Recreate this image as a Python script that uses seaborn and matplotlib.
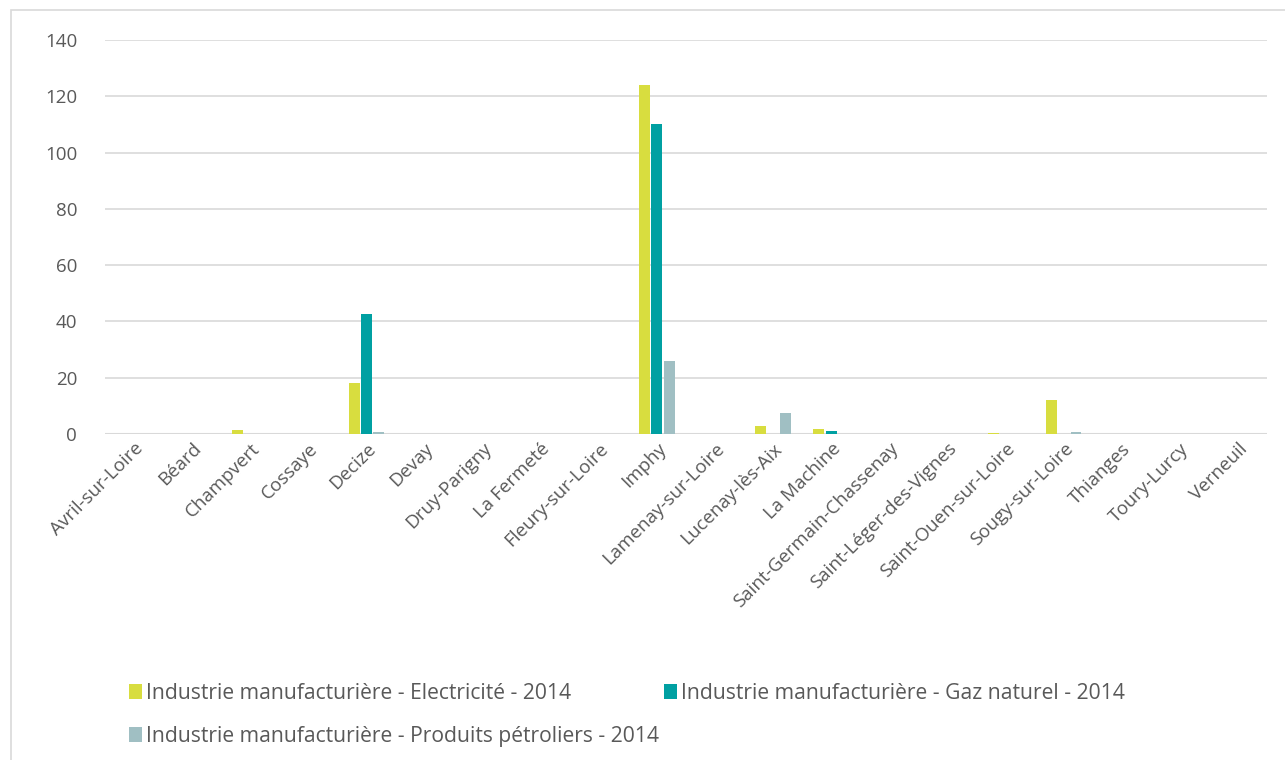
import matplotlib
matplotlib.use("Agg")
import matplotlib.pyplot as plt
from matplotlib.patches import Rectangle, Patch
import seaborn as sns
import pandas as pd

communes = [
    "Avril-sur-Loire", "Béard", "Champvert", "Cossaye", "Decize", "Devay",
    "Druy-Parigny", "La Fermeté", "Fleury-sur-Loire", "Imphy",
    "Lamenay-sur-Loire", "Lucenay-lès-Aix", "La Machine",
    "Saint-Germain-Chassenay", "Saint-Léger-des-Vignes",
    "Saint-Ouen-sur-Loire", "Sougy-sur-Loire", "Thianges", "Toury-Lurcy",
    "Verneuil",
]
electricite = [0, 0, 1.5, 0, 18.0, 0, 0, 0, 0, 124.0, 0, 2.8, 1.8, 0, 0, 0.3, 12.2, 0, 0, 0]
gaz_naturel = [0, 0, 0, 0, 42.5, 0, 0, 0, 0, 110.0, 0, 0, 0.9, 0, 0, 0, 0, 0, 0, 0]
produits_petroliers = [0, 0, 0, 0, 0.8, 0, 0, 0, 0, 26.0, 0, 7.3, 0, 0, 0, 0, 0.6, 0, 0, 0]

series_names = [
    "Industrie manufacturière - Electricité - 2014",
    "Industrie manufacturière - Gaz naturel - 2014",
    "Industrie manufacturière - Produits pétroliers - 2014",
]
colors = ["#D8DD3F", "#00A0A2", "#A0BFC3"]
yticks = [0, 20, 40, 60, 80, 100, 120, 140]

df = pd.DataFrame({
    "commune": communes * 3,
    "serie": [series_names[0]] * len(communes)
    + [series_names[1]] * len(communes)
    + [series_names[2]] * len(communes),
    "valeur": electricite + gaz_naturel + produits_petroliers,
})

sns.set_theme(style="white")
plt.rcParams["font.family"] = ["Open Sans", "DejaVu Sans"]
text_color = "#595959"

fig = plt.figure(figsize=(12.85, 7.6), dpi=100)
ax = fig.add_axes([105 / 1285, 1 - 434 / 760, (1267 - 105) / 1285, (434 - 40) / 760])

sns.barplot(
    data=df, x="commune", y="valeur", hue="serie", hue_order=series_names,
    palette=colors, width=0.64, gap=0.12, ax=ax, legend=False,
    saturation=1, errorbar=None, edgecolor="none", linewidth=0,
)

ax.set_ylim(0, 140)
ax.set_yticks(yticks)
ax.set_yticklabels([str(v) for v in yticks], color=text_color, fontsize=13.5)
ax.set_xlim(-0.5, len(communes) - 0.5)
ax.set_xticks(range(len(communes)))
ax.set_xticklabels(communes, rotation=45, ha="right", rotation_mode="anchor",
                   color=text_color, fontsize=13.5)
ax.tick_params(axis="x", length=0, pad=4)
ax.tick_params(axis="y", length=0, pad=20)
ax.set_xlabel("")
ax.set_ylabel("")
for s in ax.spines.values():
    s.set_visible(False)
ax.grid(axis="y", color="#D9D9D9", linewidth=1.2)
ax.set_axisbelow(True)
ax.axhline(0, color="#D9D9D9", linewidth=1.5, zorder=0.5)

# Chart frame
fig.patches.append(Rectangle((11 / 1285, -0.1), 1.2, 1 - 10 / 760 + 0.1,
                             transform=fig.transFigure, fill=False,
                             edgecolor="#D9D9D9", linewidth=1.2))

# Legend: two entries on the first line, the third one below
handles = [Patch(facecolor=c, edgecolor="none") for c in colors]
legend_kw = dict(loc="upper left", frameon=False, fontsize=15.2,
                 handlelength=0.6, handleheight=0.75, handletextpad=0.2)
leg1 = fig.legend(handles[:2], series_names[:2], ncol=2,
                  bbox_to_anchor=(110 / 1285, 1 - 664 / 760),
                  columnspacing=4.4, **legend_kw)
leg2 = fig.legend(handles[2:], series_names[2:], ncol=1,
                  bbox_to_anchor=(110 / 1285, 1 - 707 / 760), **legend_kw)
for leg in (leg1, leg2):
    for t in leg.get_texts():
        t.set_color(text_color)

fig.savefig("out.png", dpi=100)
